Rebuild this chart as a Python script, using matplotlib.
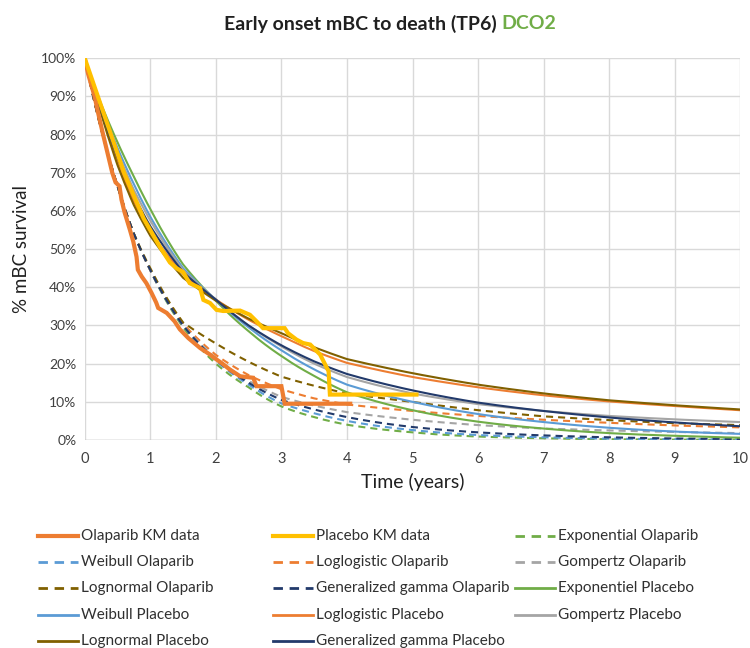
import matplotlib
matplotlib.use("Agg")
import matplotlib.pyplot as plt
from matplotlib.lines import Line2D
import numpy as np

plt.rcParams['font.family'] = ['Lato', 'DejaVu Sans']

# Kaplan-Meier data (time in years, survival in %)
ola_km_t = [0, 0.05, 0.1, 0.15, 0.2, 0.28, 0.35, 0.42, 0.47, 0.53, 0.56, 0.61, 0.69, 0.74,
            0.79, 0.81, 0.87, 0.94, 1.02, 1.09, 1.12, 1.25, 1.37, 1.45, 1.58, 1.76, 1.9,
            2.01, 2.1, 2.21, 2.37, 2.57, 2.62, 3.0, 3.05, 4.05]
ola_km_s = [100, 96, 93, 90, 86, 80, 75, 70, 67.5, 66.5, 63, 59.5, 55, 52,
            48, 44.6, 42.8, 41.1, 38.5, 36, 34.6, 33.3, 31.1, 29, 26.7, 24.1, 22.5,
            21.1, 20, 18.5, 16.7, 16.3, 14.1, 14.1, 9.5, 9.5]

pla_km_t = [0, 0.1, 0.2, 0.3, 0.4, 0.5, 0.6, 0.75, 0.9, 1.0, 1.15, 1.3, 1.4, 1.5, 1.6,
            1.76, 1.81, 1.91, 2.01, 2.11, 2.37, 2.52, 2.62, 2.72, 3.05, 3.10, 3.23, 3.33,
            3.44, 3.59, 3.72, 3.74, 5.06]
pla_km_s = [100, 95, 90, 85, 80, 75, 70, 64, 58, 55, 50.5, 46.5, 45, 44, 41.1,
            39.8, 36.7, 35.9, 34.1, 33.8, 33.9, 32.8, 31.1, 29.3, 29.3, 28, 26.3, 25.4,
            25, 22.4, 18, 11.9, 11.9]

# Fitted curves, read at these times
fit_t = [0, 0.25, 0.5, 0.75, 1, 1.5, 2, 2.5, 3, 3.5, 4, 5, 6, 7, 8, 9, 10]

exp_ola = [100, 81.5, 66.5, 54, 44.5, 29.5, 20, 13.8, 8.8, 6.0, 4.0, 2.0, 0.9, 0.45, 0.2, 0.1, 0.05]
wei_ola = [100, 81.5, 66.5, 54, 44.5, 30, 20.8, 14.5, 9.6, 7.0, 5.0, 2.6, 1.3, 0.7, 0.35, 0.2, 0.1]
llog_ola = [100, 81.5, 66.5, 54, 44.5, 30.5, 22.3, 17.0, 13.3, 10.9, 9.3, 7.6, 6.3, 5.3, 4.5, 3.8, 3.3]
gomp_ola = [100, 81.5, 66.5, 54, 44.5, 30, 21.5, 15.5, 11.3, 9.0, 7.3, 5.3, 3.9, 3.0, 2.5, 2.1, 1.8]
lnorm_ola = [100, 81.5, 66.5, 54, 45, 30.8, 25.3, 20.5, 16.6, 14.2, 12.2, 10.0, 7.8, 6.2, 5.2, 4.4, 3.9]
ggam_ola = [100, 81.5, 66.5, 54, 44.5, 30, 21, 15, 10.5, 8.0, 6.0, 3.4, 2.0, 1.2, 0.7, 0.4, 0.25]

exp_pla = [100, 88, 78, 69, 60.5, 46, 36.5, 28.5, 22, 16.8, 12.5, 7.8, 4.8, 3.0, 1.8, 1.1, 0.6]
wei_pla = [100, 87.5, 76.5, 67, 58.5, 45, 36.8, 29.5, 23.5, 18.5, 14.5, 10.0, 6.8, 4.7, 3.2, 2.2, 1.6]
llog_pla = [100, 86, 73, 62.5, 54.5, 43.5, 36.8, 31.5, 27.2, 23.3, 20.2, 16.5, 13.8, 11.7, 10.1, 8.9, 7.8]
gomp_pla = [100, 87, 75.5, 65.5, 57.5, 44.5, 36.8, 30, 24.5, 20, 16.5, 12.2, 9.4, 7.6, 6.3, 5.4, 4.7]
lnorm_pla = [100, 85.5, 72, 61.5, 53.5, 42.5, 36.5, 31.8, 28, 24.3, 21.2, 17.5, 14.5, 12.2, 10.4, 9.1, 8.0]
ggam_pla = [100, 86.5, 74, 64, 56, 44, 36.8, 30, 24.8, 20.6, 17.3, 13.0, 9.8, 7.6, 5.9, 4.6, 3.6]

ORANGE = '#ED7D31'
GOLD = '#FFC000'
GREEN = '#70AD47'
BLUE = '#5B9BD5'
GRAY = '#A5A5A5'
BROWN = '#806000'
NAVY = '#223A6B'

fig = plt.figure(figsize=(7.5, 6.48), dpi=100)
ax = fig.add_axes([0.113, 0.321, 0.874, 0.589])

dash = (0, (3.4, 2.4))
lw_fit = 1.5
lw_km = 3.0

# order of series = legend order (row by row, 3 per row)
series = [
    (ola_km_t, ola_km_s, ORANGE, '-', lw_km, 'Olaparib KM data'),
    (pla_km_t, pla_km_s, GOLD, '-', lw_km, 'Placebo KM data'),
    (fit_t, exp_ola, GREEN, dash, lw_fit, 'Exponential Olaparib'),
    (fit_t, wei_ola, BLUE, dash, lw_fit, 'Weibull Olaparib'),
    (fit_t, llog_ola, ORANGE, dash, lw_fit, 'Loglogistic Olaparib'),
    (fit_t, gomp_ola, GRAY, dash, lw_fit, 'Gompertz Olaparib'),
    (fit_t, lnorm_ola, BROWN, dash, lw_fit, 'Lognormal Olaparib'),
    (fit_t, ggam_ola, NAVY, dash, lw_fit, 'Generalized gamma Olaparib'),
    (fit_t, exp_pla, GREEN, '-', lw_fit, 'Exponentiel Placebo'),
    (fit_t, wei_pla, BLUE, '-', lw_fit, 'Weibull Placebo'),
    (fit_t, llog_pla, ORANGE, '-', lw_fit, 'Loglogistic Placebo'),
    (fit_t, gomp_pla, GRAY, '-', lw_fit, 'Gompertz Placebo'),
    (fit_t, lnorm_pla, BROWN, '-', lw_fit, 'Lognormal Placebo'),
    (fit_t, ggam_pla, NAVY, '-', lw_fit, 'Generalized gamma Placebo'),
]

for t, s, c, ls, lw, lab in series:
    t = np.asarray(t, dtype=float)
    s = np.asarray(s, dtype=float) / 100.0
    if lw == lw_km:
        ax.plot(t, s, color=c, linestyle=ls, lw=lw, label=lab, zorder=3,
                solid_joinstyle='miter')
    else:
        # smooth display between the read points
        tt = np.linspace(0, 10, 201)
        ss = np.exp(np.interp(tt, t, np.log(np.maximum(s, 1e-4))))
        ax.plot(tt, ss, color=c, linestyle=ls, lw=lw, label=lab, zorder=2)

ax.set_xlim(0, 10)
ax.set_ylim(0, 1.0)
ax.set_xticks(range(0, 11))
yt = np.arange(0, 1.01, 0.1)
ax.set_yticks(yt)
ax.set_yticklabels([f'{int(round(v * 100))}%' for v in yt])
ax.grid(True, color='#D9D9D9', lw=1.0)
ax.set_axisbelow(True)
for sp in ax.spines.values():
    sp.set_visible(False)
ax.axhline(0, color='#BFBFBF', lw=1.0, zorder=1)
ax.tick_params(length=0, labelsize=10, colors='#404040', pad=6)
ax.tick_params(axis='x', labelsize=10.5, pad=9)

ax.set_xlabel('Time (years)', fontsize=14, color='#202020', labelpad=5)
ax.set_ylabel('% mBC survival', fontsize=13.5, color='#202020', labelpad=8)

# two-colour title, centred as a whole
fig.canvas.draw()
r = fig.canvas.get_renderer()
t1 = fig.text(0, 0.963, 'Early onset mBC to death (TP6) ', ha='left', va='center',
              fontsize=14, fontweight='bold', color='#202020')
t2 = fig.text(0, 0.963, 'DCO2', ha='left', va='center',
              fontsize=14, fontweight='bold', color=GREEN)
w1 = t1.get_window_extent(r).width / fig.bbox.width
w2 = t2.get_window_extent(r).width / fig.bbox.width
x0 = 0.52 - (w1 + w2) / 2
t1.set_x(x0)
t2.set_x(x0 + w1)

# legend laid out like the spreadsheet legend: 3 columns, row by row
col_x = [38 / 750, 273 / 750, 515 / 750]
row_y = [1 - 536 / 648, 1 - 562 / 648, 1 - 588 / 648, 1 - 615 / 648, 1 - 641 / 648]
hl = 40 / 750
for i, (t, s, c, ls, lw, lab) in enumerate(series):
    row, col = divmod(i, 3)
    x = col_x[col]
    y = row_y[row]
    fig.add_artist(Line2D([x, x + hl], [y, y], transform=fig.transFigure,
                          color=c, linestyle=ls, lw=lw if lw == lw_km else 2.0))
    fig.text(x + hl + 3 / 750, y, lab, ha='left', va='center', fontsize=11,
             color='#303030')

fig.savefig('out.png', dpi=100)
